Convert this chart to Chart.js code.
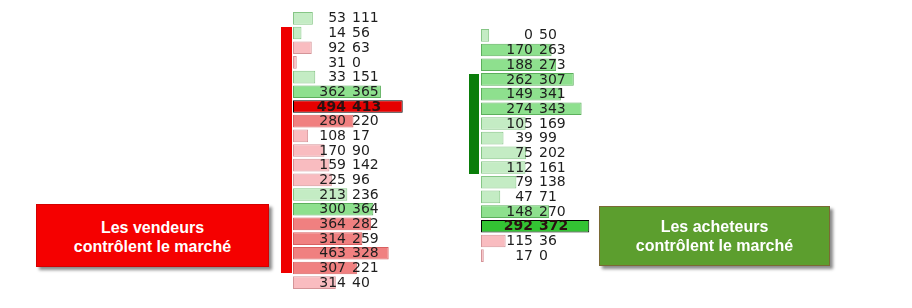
<!DOCTYPE html>
<html>
<head>
<meta charset="utf-8">
<script src="https://cdn.jsdelivr.net/npm/chart.js@4/dist/chart.umd.min.js"></script>
<style>
	body { margin: 0; background: #fff; width: 912px; height: 308px; overflow: hidden; position: relative; font-family: "Liberation Sans", Arial, sans-serif; }
	canvas { position: absolute; }
	#chart_vendeurs { left: 293px; top: 11px; }
	#chart_acheteurs { left: 481px; top: 28px; }
	.barre { position: absolute; }
	#barre_rouge { left: 281px; top: 27px; width: 11px; height: 246px; background: #ee0000; }
	#barre_verte { left: 469px; top: 74px; width: 10px; height: 100px; background: #0a7d0a; }
	.boite { position: absolute; color: #fff; font-size: 16px; font-weight: bold; line-height: 19px; text-align: center;
		display: flex; align-items: center; justify-content: center; box-shadow: 3px 3px 3px #8a8a8a; box-sizing: border-box; }
	#boite_vendeurs { left: 36px; top: 204px; width: 233px; height: 63px; background: #f50000; border: 1px solid #d40000; padding-top: 2px; }
	#boite_acheteurs { left: 599px; top: 206px; width: 231px; height: 60px; background: #5c9e2e; border: 1px solid #7a6a34; }
</style>
</head>
<body>
<div class="barre" id="barre_rouge"></div>
<div class="barre" id="barre_verte"></div>
<canvas id="chart_vendeurs" width="150" height="279"></canvas>
<canvas id="chart_acheteurs" width="150" height="235"></canvas>
<div class="boite" id="boite_vendeurs">Les vendeurs<br>contrôlent le marché</div>
<div class="boite" id="boite_acheteurs">Les acheteurs<br>contrôlent le marché</div>
<script>
// colonne de gauche (vendeurs) : bid / ask par niveau de prix, du haut vers le bas
const leftBid = [53, 14, 92, 31, 33, 362, 494, 280, 108, 170, 159, 225, 213, 300, 364, 314, 463, 307, 314];
const leftAsk = [111, 56, 63, 0, 151, 365, 413, 220, 17, 90, 142, 96, 236, 364, 282, 259, 328, 221, 40];

// colonne de droite (acheteurs)
const rightBid = [0, 170, 188, 262, 149, 274, 105, 39, 75, 112, 79, 47, 148, 292, 115, 17];
const rightAsk = [50, 263, 273, 307, 341, 343, 169, 99, 202, 161, 138, 71, 270, 372, 36, 0];

// niveaux (aucune étiquette de prix visible)
const leftLevels = leftBid.map((v, i) => 'N' + (i + 1));
const rightLevels = rightBid.map((v, i) => 'N' + (i + 1));

// couleurs : vert si ask > bid, rouge sinon ; plus foncé si gros volume ; POC encadré de noir
const couleurs = {
	vert: { light: ['#c4ecc4', '#86c686'], medium: ['#8ee08e', '#5caf5c'], poc: ['#33c433', '#000000'] },
	rouge: { light: ['#f9bcc0', '#d49498'], medium: ['#f08080', '#d86060'], poc: ['#e60000', '#000000'] }
};

function makeFootprint(canvasId, levels, bid, ask, xMax, bidX, askX) {
	const total = bid.map((b, i) => b + ask[i]);
	const maxTotal = Math.max(...total);
	const fills = [], borders = [];
	total.forEach((t, i) => {
		const side = ask[i] > bid[i] ? couleurs.vert : couleurs.rouge;
		let c = side.light;
		if (t === maxTotal) c = side.poc;
		else if (t / maxTotal >= 0.5) c = side.medium;
		fills.push(c[0]);
		borders.push(c[1]);
	});

	// texte "bid ask" sur chaque ligne
	const textPlugin = {
		id: 'bidAskText',
		afterDatasetsDraw(chart) {
			const ctx = chart.ctx;
			const yScale = chart.scales.y;
			ctx.save();
			ctx.textBaseline = 'middle';
			levels.forEach((l, i) => {
				const y = yScale.getPixelForValue(i) + 0.5;
				const poc = total[i] === maxTotal;
				ctx.font = (poc ? 'bold ' : '') + '14px "DejaVu Sans"';
				ctx.fillStyle = poc ? '#2a1010' : '#1e1e1e';
				ctx.textAlign = 'right';
				ctx.fillText(String(bid[i]), bidX, y);
				ctx.textAlign = 'left';
				ctx.fillText(String(ask[i]), askX, y);
			});
			ctx.restore();
		}
	};

	return new Chart(document.getElementById(canvasId).getContext('2d'), {
		type: 'bar',
		data: {
			labels: levels,
			datasets: [{
				data: total,
				backgroundColor: fills,
				borderColor: borders,
				borderWidth: 1,
				borderSkipped: false,
				barPercentage: 0.86,
				categoryPercentage: 1
			}]
		},
		options: {
			indexAxis: 'y',
			responsive: false,
			animation: false,
			devicePixelRatio: 1,
			layout: { padding: 0 },
			plugins: { legend: { display: false }, tooltip: { enabled: false } },
			scales: {
				x: { display: false, min: 0, max: xMax },
				y: { display: false }
			}
		},
		plugins: [textPlugin]
	});
}

makeFootprint('chart_vendeurs', leftLevels, leftBid, leftAsk, 1240, 53, 59);
makeFootprint('chart_acheteurs', rightLevels, rightBid, rightAsk, 920, 52, 58);
</script>
</body>
</html>
